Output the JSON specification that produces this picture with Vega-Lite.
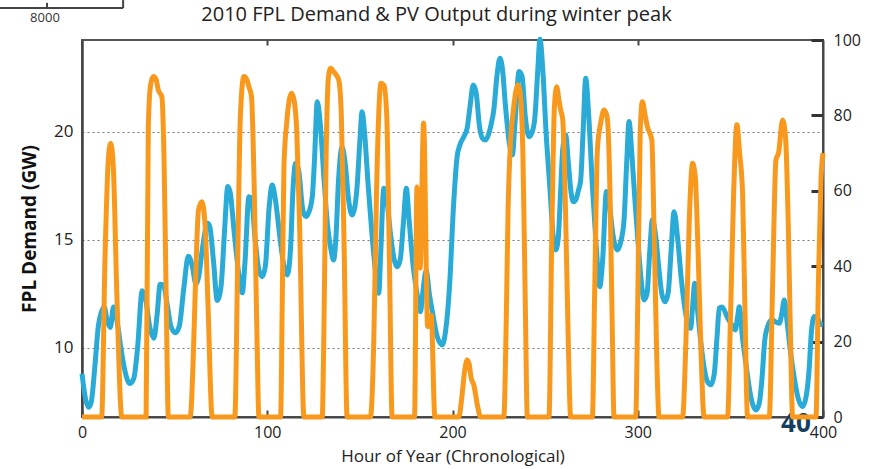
{
  "$schema": "https://vega.github.io/schema/vega-lite/v6.json",
  "width": 741,
  "height": 377,
  "autosize": {"type": "none"},
  "padding": {"left": 82, "top": 40, "right": 48, "bottom": 52},
  "background": "white",
  "title": {"text": "2010 FPL Demand & PV Output during winter peak", "font": "Open Sans", "fontSize": 20, "fontWeight": "normal", "color": "#222", "dx": -16, "offset": 14, "dy": 42},
  "config": {"view": {"stroke": "#555", "strokeWidth": 2}, "font": "Open Sans"},
  "datasets": {
    "demand": [
      {"hour":0,"demand":8.8},{"hour":2,"demand":7.6},{"hour":3.6,"demand":7.25},{"hour":5,"demand":7.5},{"hour":7,"demand":9.2},{"hour":8.8,"demand":11.0},{"hour":10.6,"demand":11.7},{"hour":12,"demand":11.9},{"hour":13.5,"demand":11.3},{"hour":15.3,"demand":10.95},{"hour":17,"demand":11.9},{"hour":19,"demand":11.2},{"hour":21,"demand":10.0},{"hour":23,"demand":9.0},{"hour":25.9,"demand":8.35},{"hour":28,"demand":8.6},{"hour":30,"demand":10.0},{"hour":32.5,"demand":12.65},{"hour":34.5,"demand":12.2},{"hour":36.5,"demand":11.0},{"hour":38.8,"demand":10.45},{"hour":40.5,"demand":11.5},{"hour":42.2,"demand":12.95},{"hour":44,"demand":12.9},{"hour":46,"demand":12.0},{"hour":48,"demand":11.0},{"hour":50.4,"demand":10.7},{"hour":52.5,"demand":11.0},{"hour":55,"demand":12.8},{"hour":57.4,"demand":14.25},{"hour":59.5,"demand":13.8},{"hour":61.5,"demand":12.95},{"hour":63,"demand":13.3},{"hour":65,"demand":14.6},{"hour":67.8,"demand":15.77},{"hour":69,"demand":15.6},{"hour":71,"demand":14.0},{"hour":73,"demand":12.2},{"hour":75,"demand":12.8},{"hour":77,"demand":15.5},{"hour":78.7,"demand":17.47},{"hour":80,"demand":17.2},{"hour":82,"demand":15.5},{"hour":84.5,"demand":13.5},{"hour":86.5,"demand":12.55},{"hour":88,"demand":14.0},{"hour":90.1,"demand":17.0},{"hour":91.5,"demand":16.9},{"hour":93.5,"demand":15.0},{"hour":95.5,"demand":13.6},{"hour":97.3,"demand":13.3},{"hour":99,"demand":13.8},{"hour":101,"demand":16.5},{"hour":102.7,"demand":17.55},{"hour":104.5,"demand":16.8},{"hour":107,"demand":15.0},{"hour":109,"demand":13.8},{"hour":110.8,"demand":13.38},{"hour":112.5,"demand":14.5},{"hour":114,"demand":17.5},{"hour":115.3,"demand":18.55},{"hour":117,"demand":18.2},{"hour":119,"demand":16.5},{"hour":120.7,"demand":16.08},{"hour":122.5,"demand":16.3},{"hour":124.3,"demand":17.0},{"hour":125.5,"demand":18.7},{"hour":127,"demand":21.4},{"hour":128.5,"demand":20.5},{"hour":130.5,"demand":18.0},{"hour":132.5,"demand":15.7},{"hour":134.5,"demand":14.5},{"hour":135.8,"demand":14.07},{"hour":137,"demand":15.0},{"hour":138.5,"demand":17.8},{"hour":140.4,"demand":19.3},{"hour":142,"demand":18.6},{"hour":144,"demand":16.8},{"hour":145.8,"demand":16.16},{"hour":147,"demand":16.4},{"hour":148.5,"demand":17.47},{"hour":150,"demand":19.6},{"hour":151.2,"demand":20.94},{"hour":152.5,"demand":20.0},{"hour":154.5,"demand":17.5},{"hour":156.5,"demand":15.3},{"hour":158.5,"demand":13.5},{"hour":160.2,"demand":12.53},{"hour":161.3,"demand":14.5},{"hour":162.9,"demand":17.39},{"hour":164.5,"demand":16.9},{"hour":166.5,"demand":15.3},{"hour":168.5,"demand":14.1},{"hour":170.1,"demand":13.76},{"hour":171.8,"demand":14.1},{"hour":173.5,"demand":15.8},{"hour":175.1,"demand":17.39},{"hour":176.5,"demand":16.0},{"hour":178.5,"demand":14.0},{"hour":180.5,"demand":12.7},{"hour":182.7,"demand":11.68},{"hour":184,"demand":12.6},{"hour":185.8,"demand":13.6},{"hour":187.5,"demand":12.5},{"hour":189.5,"demand":11.5},{"hour":191.5,"demand":10.6},{"hour":194.4,"demand":10.14},{"hour":196.3,"demand":10.8},{"hour":198.5,"demand":13.0},{"hour":200.5,"demand":16.5},{"hour":202.5,"demand":18.86},{"hour":204,"demand":19.4},{"hour":206.1,"demand":19.78},{"hour":207.9,"demand":20.17},{"hour":209.5,"demand":21.2},{"hour":211.2,"demand":22.18},{"hour":212.8,"demand":21.8},{"hour":214.5,"demand":20.3},{"hour":216.2,"demand":19.7},{"hour":217.8,"demand":19.63},{"hour":219.5,"demand":19.9},{"hour":221,"demand":20.4},{"hour":222.3,"demand":21.02},{"hour":224,"demand":22.6},{"hour":225.6,"demand":23.41},{"hour":227,"demand":22.9},{"hour":228.5,"demand":21.3},{"hour":230.5,"demand":19.6},{"hour":232.3,"demand":18.94},{"hour":233.8,"demand":20.5},{"hour":235.9,"demand":22.8},{"hour":237.5,"demand":22.6},{"hour":239.3,"demand":20.7},{"hour":241.3,"demand":19.78},{"hour":243,"demand":20.0},{"hour":244.5,"demand":20.7},{"hour":246,"demand":22.8},{"hour":247.2,"demand":24.3},{"hour":248.8,"demand":22.8},{"hour":250.5,"demand":20.0},{"hour":252.5,"demand":17.5},{"hour":254.3,"demand":15.2},{"hour":255.7,"demand":14.54},{"hour":257,"demand":15.0},{"hour":258.5,"demand":17.5},{"hour":259.5,"demand":19.2},{"hour":261.1,"demand":19.86},{"hour":262.5,"demand":18.6},{"hour":264,"demand":17.2},{"hour":265.2,"demand":16.77},{"hour":266.5,"demand":16.85},{"hour":268,"demand":17.3},{"hour":269.2,"demand":17.78},{"hour":270.5,"demand":20.0},{"hour":271.9,"demand":22.49},{"hour":273.5,"demand":20.8},{"hour":275.5,"demand":17.5},{"hour":277.5,"demand":14.8},{"hour":279.5,"demand":12.84},{"hour":281,"demand":14.0},{"hour":283.1,"demand":17.24},{"hour":284.5,"demand":16.8},{"hour":286.5,"demand":15.3},{"hour":289,"demand":14.54},{"hour":290.8,"demand":14.9},{"hour":292.6,"demand":15.93},{"hour":294,"demand":18.5},{"hour":295.3,"demand":20.48},{"hour":296.8,"demand":19.0},{"hour":298.5,"demand":16.8},{"hour":300.5,"demand":14.5},{"hour":302,"demand":13.0},{"hour":303.4,"demand":12.22},{"hour":305,"demand":12.5},{"hour":306.5,"demand":14.5},{"hour":307.9,"demand":15.93},{"hour":309.5,"demand":15.3},{"hour":311.5,"demand":13.6},{"hour":313,"demand":12.5},{"hour":314.8,"demand":12.14},{"hour":316.5,"demand":12.6},{"hour":318,"demand":14.5},{"hour":319.6,"demand":16.31},{"hour":321.5,"demand":15.1},{"hour":323.5,"demand":13.2},{"hour":325.5,"demand":11.8},{"hour":327,"demand":11.1},{"hour":328.6,"demand":10.91},{"hour":329.5,"demand":11.8},{"hour":330.8,"demand":13.0},{"hour":332,"demand":12.0},{"hour":334,"demand":10.3},{"hour":336,"demand":9.0},{"hour":337.5,"demand":8.45},{"hour":339.5,"demand":8.29},{"hour":341.3,"demand":8.8},{"hour":342.8,"demand":10.5},{"hour":344,"demand":11.84},{"hour":345.5,"demand":11.9},{"hour":348.5,"demand":11.38},{"hour":350.5,"demand":11.1},{"hour":352.6,"demand":10.83},{"hour":354,"demand":11.5},{"hour":354.8,"demand":11.91},{"hour":356.5,"demand":10.5},{"hour":358.5,"demand":9.2},{"hour":360.5,"demand":8.0},{"hour":362,"demand":7.4},{"hour":363.8,"demand":7.13},{"hour":365.5,"demand":7.4},{"hour":367,"demand":8.5},{"hour":368.5,"demand":10.3},{"hour":370.1,"demand":10.99},{"hour":372.5,"demand":11.3},{"hour":374.5,"demand":11.2},{"hour":376.4,"demand":11.14},{"hour":377.8,"demand":11.6},{"hour":379.1,"demand":12.22},{"hour":380.5,"demand":11.3},{"hour":382.5,"demand":9.8},{"hour":384.5,"demand":8.6},{"hour":386.5,"demand":7.7},{"hour":389,"demand":7.28},{"hour":391,"demand":7.8},{"hour":392.5,"demand":9.0},{"hour":393.8,"demand":10.8},{"hour":395.3,"demand":11.45},{"hour":397,"demand":11.4},{"hour":398.5,"demand":11.1},{"hour":400,"demand":11.06}
    ],
    "pv": [
      {"hour":0,"pv":0},{"hour":10.6,"pv":0},{"hour":12.4,"pv":41.6},{"hour":14.2,"pv":68.2},{"hour":15.5,"pv":72.6},{"hour":16.9,"pv":66.4},{"hour":18.8,"pv":32.8},{"hour":21.5,"pv":0},
      {"hour":34.6,"pv":0},{"hour":35.8,"pv":77},{"hour":37,"pv":88},{"hour":38.5,"pv":90.3},{"hour":40,"pv":89.5},{"hour":41.2,"pv":86.7},{"hour":43.1,"pv":85},{"hour":44.3,"pv":68.2},{"hour":45.5,"pv":30},{"hour":46.6,"pv":0},
      {"hour":58.4,"pv":0},{"hour":60,"pv":15},{"hour":61.1,"pv":32.8},{"hour":62.9,"pv":54.9},{"hour":64.7,"pv":57.1},{"hour":66.5,"pv":50.5},{"hour":68,"pv":30},{"hour":70.3,"pv":0},
      {"hour":82.5,"pv":0},{"hour":84,"pv":40},{"hour":85.5,"pv":80},{"hour":87.4,"pv":90.3},{"hour":89,"pv":89.5},{"hour":90.1,"pv":87.6},{"hour":91.5,"pv":85},{"hour":93,"pv":60},{"hour":94.5,"pv":20},{"hour":95.5,"pv":0},
      {"hour":107.2,"pv":0},{"hour":108.2,"pv":35},{"hour":109,"pv":66.4},{"hour":110.5,"pv":78},{"hour":113.1,"pv":85.9},{"hour":114.5,"pv":84},{"hour":116,"pv":75},{"hour":117.5,"pv":50},{"hour":119.8,"pv":0},
      {"hour":129.7,"pv":0},{"hour":130.5,"pv":20},{"hour":131.8,"pv":70},{"hour":133,"pv":90},{"hour":134.2,"pv":92.5},{"hour":136,"pv":91.5},{"hour":138.6,"pv":89.4},{"hour":140,"pv":80},{"hour":141.5,"pv":45},{"hour":143.1,"pv":0},
      {"hour":155.7,"pv":0},{"hour":157.5,"pv":20},{"hour":159,"pv":60},{"hour":161.4,"pv":88.5},{"hour":163,"pv":88},{"hour":164.5,"pv":80},{"hour":166,"pv":40},{"hour":167.4,"pv":0},
      {"hour":179.5,"pv":0},{"hour":180.8,"pv":61},{"hour":182.5,"pv":39.5},{"hour":184.4,"pv":78},{"hour":186.6,"pv":24},{"hour":188.5,"pv":27},{"hour":190.5,"pv":0},
      {"hour":203.4,"pv":0},{"hour":205,"pv":5},{"hour":206.5,"pv":12},{"hour":207.9,"pv":15.1},{"hour":209,"pv":14},{"hour":210,"pv":10.5},{"hour":211.5,"pv":8.5},{"hour":213.5,"pv":3},{"hour":215.1,"pv":0},
      {"hour":227.7,"pv":0},{"hour":229,"pv":25},{"hour":230,"pv":55},{"hour":231.4,"pv":73.5},{"hour":233,"pv":82},{"hour":235.3,"pv":88.1},{"hour":236.5,"pv":86},{"hour":238,"pv":70},{"hour":239.3,"pv":30},{"hour":240.4,"pv":0},
      {"hour":252.1,"pv":0},{"hour":253.5,"pv":45},{"hour":255,"pv":82},{"hour":256.2,"pv":87.6},{"hour":257.5,"pv":84},{"hour":258.4,"pv":81.4},{"hour":259.5,"pv":79},{"hour":261,"pv":55},{"hour":262.5,"pv":20},{"hour":263.8,"pv":0},
      {"hour":275.5,"pv":0},{"hour":276.8,"pv":35},{"hour":278.2,"pv":70.8},{"hour":280,"pv":78},{"hour":281.8,"pv":81.4},{"hour":283.5,"pv":79.5},{"hour":285,"pv":60},{"hour":286.2,"pv":25},{"hour":287.2,"pv":0},
      {"hour":298.9,"pv":0},{"hour":300,"pv":30},{"hour":301.3,"pv":75},{"hour":302.5,"pv":83.6},{"hour":304,"pv":80},{"hour":305.2,"pv":77},{"hour":307.6,"pv":73.5},{"hour":308.8,"pv":50},{"hour":310.3,"pv":15},{"hour":311.5,"pv":0},
      {"hour":324.2,"pv":0},{"hour":326,"pv":20},{"hour":327.8,"pv":52},{"hour":329.6,"pv":67.3},{"hour":331,"pv":64},{"hour":332.5,"pv":45},{"hour":334.3,"pv":15},{"hour":335.8,"pv":0},
      {"hour":348.5,"pv":0},{"hour":350,"pv":25},{"hour":351.8,"pv":60},{"hour":353.5,"pv":77.5},{"hour":355,"pv":70},{"hour":356.6,"pv":59.3},{"hour":357.8,"pv":30},{"hour":359.3,"pv":0},
      {"hour":371,"pv":0},{"hour":372.8,"pv":35},{"hour":374.6,"pv":68.2},{"hour":376,"pv":70},{"hour":378.2,"pv":78.8},{"hour":379.8,"pv":74},{"hour":381.3,"pv":50},{"hour":382.5,"pv":20},{"hour":383.6,"pv":0},
      {"hour":396.2,"pv":0},{"hour":397.5,"pv":35},{"hour":398.9,"pv":62.9},{"hour":400,"pv":70}
    ],
    "notes": [
      {"label":"40","hour":385.4,"value":6.48},
      {"label":"8000","hour":-20,"value":25.3}
    ],
    "frag": [
      {"x1":-44.3,"x2":22.2,"y1":25.74,"y2":25.74},
      {"x1":22.2,"x2":22.2,"y1":25.74,"y2":26.2},
      {"x1":-18.9,"x2":-18.9,"y1":25.74,"y2":25.98}
    ]
  },
  "layer": [
    {
      "layer": [
        {
          "data": {"name": "demand"},
          "mark": {"type": "line", "color": "#2aaad6", "strokeWidth": 5, "interpolate": "monotone"},
          "encoding": {
            "x": {"field": "hour", "type": "quantitative", "scale": {"domain": [0, 400], "nice": false},
              "axis": {"orient": "bottom", "values": [0, 100, 200, 300, 400], "title": "Hour of Year (Chronological)", "labelFlush": false, "tickSize": -7, "tickWidth": 2, "tickColor": "#444", "domainColor": "#444", "domainWidth": 2, "grid": false, "labelFontSize": 16, "labelColor": "#222", "labelPadding": 14, "titleFontSize": 17, "titleFontWeight": "normal", "titleColor": "#222", "titlePadding": 8}},
            "y": {"field": "demand", "type": "quantitative", "scale": {"domain": [6.8, 24.26], "nice": false, "zero": false},
              "axis": {"orient": "left", "values": [10, 15, 20], "title": "FPL Demand (GW)", "ticks": false, "grid": true, "gridDash": [2, 3], "gridColor": "#777", "gridWidth": 1, "domainColor": "#444", "domainWidth": 2.5, "labelFontSize": 17, "labelColor": "#222", "labelPadding": 9, "titleFontSize": 19, "titleFontWeight": "bold", "titleColor": "#111", "titlePadding": 14}}
          }
        },
        {
          "data": {"name": "notes"},
          "transform": [{"filter": "datum.label == '40'"}],
          "mark": {"type": "text", "fontSize": 26, "fontWeight": "bold", "color": "#163e5f", "baseline": "middle", "align": "center"},
          "encoding": {
            "x": {"field": "hour", "type": "quantitative", "scale": {"domain": [0, 400], "nice": false}},
            "y": {"field": "value", "type": "quantitative", "scale": {"domain": [6.8, 24.26], "nice": false, "zero": false}},
            "text": {"field": "label"}
          }
        },
        {
          "data": {"name": "notes"},
          "transform": [{"filter": "datum.label == '8000'"}],
          "mark": {"type": "text", "fontSize": 13, "color": "#333", "baseline": "middle", "align": "center"},
          "encoding": {
            "x": {"field": "hour", "type": "quantitative", "scale": {"domain": [0, 400], "nice": false}},
            "y": {"field": "value", "type": "quantitative", "scale": {"domain": [6.8, 24.26], "nice": false, "zero": false}},
            "text": {"field": "label"}
          }
        },
        {
          "data": {"name": "frag"},
          "mark": {"type": "rule", "color": "#444", "strokeWidth": 2},
          "encoding": {
            "x": {"field": "x1", "type": "quantitative", "scale": {"domain": [0, 400], "nice": false}},
            "x2": {"field": "x2"},
            "y": {"field": "y1", "type": "quantitative", "scale": {"domain": [6.8, 24.26], "nice": false, "zero": false}},
            "y2": {"field": "y2"}
          }
        }
      ]
    },
    {
      "data": {"name": "pv"},
      "mark": {"type": "line", "color": "#f8991d", "strokeWidth": 5, "interpolate": "monotone"},
      "encoding": {
        "x": {"field": "hour", "type": "quantitative", "scale": {"domain": [0, 400], "nice": false},
          "axis": {"orient": "top", "values": [100, 200, 300], "labels": false, "title": null, "tickSize": -5, "tickWidth": 2, "tickColor": "#444", "domain": false, "grid": false}},
        "y": {"field": "pv", "type": "quantitative", "scale": {"domain": [0, 100], "nice": false},
          "axis": {"orient": "right", "values": [0, 20, 40, 60, 80, 100], "title": null, "tickSize": -12, "tickWidth": 3, "tickColor": "#333", "domainColor": "#444", "domainWidth": 2, "grid": false, "labelFontSize": 16, "labelColor": "#222", "labelPadding": 22}}
      }
    }
  ],
  "resolve": {"scale": {"y": "independent"}, "axis": {"x": "independent"}}
}
